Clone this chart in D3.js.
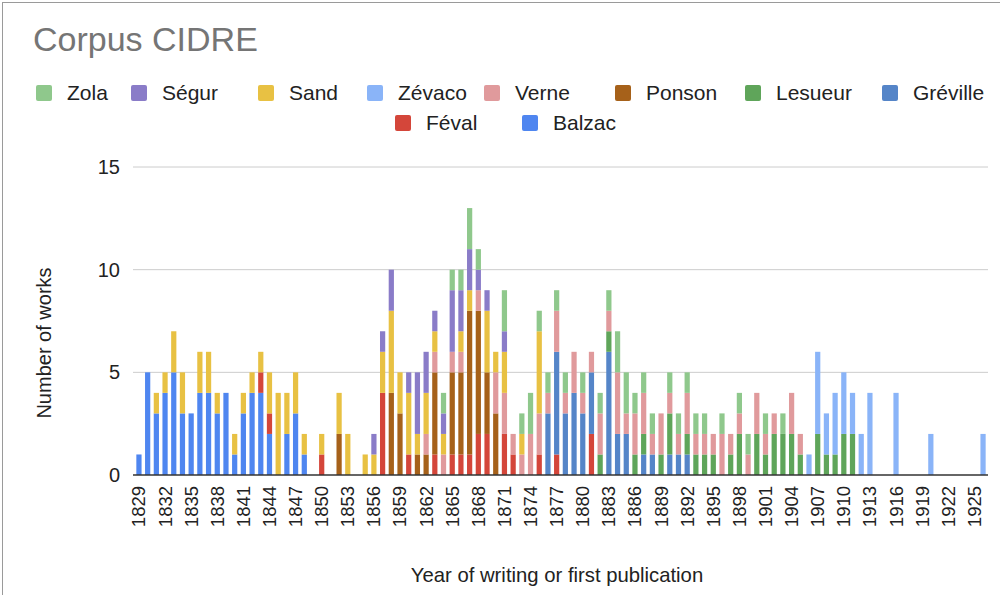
<!DOCTYPE html>
<html>
<head>
<meta charset="utf-8">
<script src="https://cdn.jsdelivr.net/npm/d3@7"></script>
<style>
  html, body { margin: 0; padding: 0; background: #fff; }
  svg { display: block; font-family: "Liberation Sans", Arial, sans-serif; }
</style>
</head>
<body>
<svg id="chart" width="1000" height="595"></svg>
<script>
// ---- DATA ----
const years = [
  1829,1830,1831,1832,1833,1834,1835,1836,1837,1838,
  1839,1840,1841,1842,1843,1844,1845,1846,1847,1848,
  1849,1850,1851,1852,1853,1854,1855,1856,1857,1858,
  1859,1860,1861,1862,1863,1864,1865,1866,1867,1868,
  1869,1870,1871,1872,1873,1874,1875,1876,1877,1878,
  1879,1880,1881,1882,1883,1884,1885,1886,1887,1888,
  1889,1890,1891,1892,1893,1894,1895,1896,1897,1898,
  1899,1900,1901,1902,1903,1904,1905,1906,1907,1908,
  1909,1910,1911,1912,1913,1914,1915,1916,1917,1918,
  1919,1920,1921,1922,1923,1924,1925,1926
];
const tickYears = [1829,1832,1835,1838,1841,1844,1847,1850,1853,1856,1859,1862,1865,1868,1871,1874,1877,1880,1883,1886,1889,1892,1895,1898,1901,1904,1907,1910,1913,1916,1919,1922,1925];
const yTicks = [0, 5, 10, 15];

const balzac = [
  1,5,3,4,5,3,3,4,4,3,
  4,1,3,4,4,2,0,2,3,1,
  0,0,0,0,0,0,0,0,0,0,
  0,0,0,0,0,0,0,0,0,0,
  0,0,0,0,0,0,0,0,0,0,
  0,0,0,0,0,0,0,0,0,0,
  0,0,0,0,0,0,0,0,0,0,
  0,0,0,0,0,0,0,0,0,0,
  0,0,0,0,0,0,0,0,0,0,
  0,0,0,0,0,0,0,0
];
const feval = [
  0,0,0,0,0,0,0,0,0,0,
  0,0,0,0,1,1,0,0,0,0,
  0,1,0,0,0,0,0,0,4,0,
  0,1,0,0,1,0,1,1,1,2,
  2,0,2,1,0,0,1,0,1,0,
  0,0,2,0,0,0,0,0,0,0,
  0,0,0,0,0,0,0,0,0,0,
  0,0,0,0,0,0,0,0,0,0,
  0,0,0,0,0,0,0,0,0,0,
  0,0,0,0,0,0,0,0
];
const greville = [
  0,0,0,0,0,0,0,0,0,0,
  0,0,0,0,0,0,0,0,0,0,
  0,0,0,0,0,0,0,0,0,0,
  0,0,0,0,0,0,0,0,0,0,
  0,0,0,0,0,0,0,3,5,3,
  4,3,3,0,6,2,2,0,1,1,
  0,1,1,1,0,0,0,0,0,0,
  0,0,0,0,0,0,0,0,0,0,
  0,0,0,0,0,0,0,0,0,0,
  0,0,0,0,0,0,0,0
];
const lesueur = [
  0,0,0,0,0,0,0,0,0,0,
  0,0,0,0,0,0,0,0,0,0,
  0,0,0,0,0,0,0,0,0,0,
  0,0,0,0,0,0,0,0,0,0,
  0,0,0,0,0,0,0,0,0,0,
  0,0,0,1,1,0,0,1,1,0,
  1,2,0,1,1,1,1,0,1,2,
  0,2,1,2,2,2,1,0,2,1,
  1,2,2,0,0,0,0,0,0,0,
  0,0,0,0,0,0,0,0
];
const ponson = [
  0,0,0,0,0,0,0,0,0,0,
  0,0,0,0,0,0,0,0,0,0,
  0,0,0,2,0,0,0,0,0,4,
  3,0,1,1,4,0,4,4,7,6,
  3,3,0,0,0,0,0,0,0,0,
  0,0,0,0,0,0,0,0,0,0,
  0,0,0,0,0,0,0,0,0,0,
  0,0,0,0,0,0,0,0,0,0,
  0,0,0,0,0,0,0,0,0,0,
  0,0,0,0,0,0,0,0
];
const verne = [
  0,0,0,0,0,0,0,0,0,0,
  0,0,0,0,0,0,0,0,0,0,
  0,0,0,0,0,0,0,0,0,0,
  0,0,0,1,1,1,1,1,0,1,
  0,2,2,1,1,2,2,1,2,1,
  2,1,1,2,1,3,1,2,2,1,
  2,1,1,2,1,1,1,2,1,1,
  1,2,1,1,0,2,1,0,0,0,
  0,0,0,0,0,0,0,0,0,0,
  0,0,0,0,0,0,0,0
];
const zevaco = [
  0,0,0,0,0,0,0,0,0,0,
  0,0,0,0,0,0,0,0,0,0,
  0,0,0,0,0,0,0,0,0,0,
  0,0,0,0,0,0,0,0,0,0,
  0,0,0,0,0,0,0,0,0,0,
  0,0,0,0,0,0,0,0,0,0,
  0,0,0,0,0,0,0,0,0,0,
  0,0,0,0,0,0,0,1,4,2,
  3,3,2,2,4,0,0,4,0,0,
  0,2,0,0,0,0,0,2
];
const sand = [
  0,0,1,1,2,2,0,2,2,1,
  0,1,1,1,1,2,4,2,2,1,
  0,1,0,2,2,0,1,1,2,4,
  2,3,1,2,1,1,0,1,1,0,
  3,1,2,0,1,0,4,0,0,0,
  0,0,0,0,0,0,0,0,0,0,
  0,0,0,0,0,0,0,0,0,0,
  0,0,0,0,0,0,0,0,0,0,
  0,0,0,0,0,0,0,0,0,0,
  0,0,0,0,0,0,0,0
];
const segur = [
  0,0,0,0,0,0,0,0,0,0,
  0,0,0,0,0,0,0,0,0,0,
  0,0,0,0,0,0,0,1,1,2,
  0,1,3,2,1,1,3,2,2,1,
  1,0,1,0,0,0,0,0,0,0,
  0,0,0,0,0,0,0,0,0,0,
  0,0,0,0,0,0,0,0,0,0,
  0,0,0,0,0,0,0,0,0,0,
  0,0,0,0,0,0,0,0,0,0,
  0,0,0,0,0,0,0,0
];
const zola = [
  0,0,0,0,0,0,0,0,0,0,
  0,0,0,0,0,0,0,0,0,0,
  0,0,0,0,0,0,0,0,0,0,
  0,0,0,0,0,1,1,1,2,1,
  0,0,2,0,1,2,1,1,1,1,
  0,1,0,1,1,2,2,1,1,1,
  0,1,1,1,1,1,0,1,0,1,
  1,0,1,0,1,0,0,0,0,0,
  0,0,0,0,0,0,0,0,0,0,
  0,0,0,0,0,0,0,0
];

// stacking order bottom -> top
const stackOrder = ["Balzac","Féval","Gréville","Lesueur","Ponson","Verne","Zévaco","Sand","Ségur","Zola"];
// legend order
const legendOrder = ["Zola","Ségur","Sand","Zévaco","Verne","Ponson","Lesueur","Gréville","Féval","Balzac"];
const seriesValues = {
  "Balzac": balzac, "Féval": feval, "Gréville": greville, "Lesueur": lesueur,
  "Ponson": ponson, "Verne": verne, "Zévaco": zevaco, "Sand": sand,
  "Ségur": segur, "Zola": zola
};
const colors = {
  "Zola": "#8fc88c", "Ségur": "#8a7cc8", "Sand": "#e8c143", "Zévaco": "#8ab4f8",
  "Verne": "#e09a9c", "Ponson": "#a6611a", "Lesueur": "#5fa55a", "Gréville": "#5585c8",
  "Féval": "#d4463a", "Balzac": "#4f86f0"
};

// ---- CHART ----
const svg = d3.select("#chart");

// outer border
svg.append("rect").attr("x", 2.5).attr("y", 2.5).attr("width", 1100).attr("height", 700)
  .attr("fill", "none").attr("stroke", "#9a9a9a").attr("stroke-width", 1);

const table = years.map((y, i) => {
  const row = { year: y };
  stackOrder.forEach(k => row[k] = seriesValues[k][i]);
  return row;
});

const x = d3.scaleBand().domain(years).range([134.6, 987.4]).paddingInner(0.4).paddingOuter(0.2);
const y = d3.scaleLinear().domain([0, 15]).range([475, 167]);

// gridlines
svg.append("g").selectAll("line").data(yTicks.filter(d => d > 0)).join("line")
  .attr("x1", 133).attr("x2", 988)
  .attr("y1", d => y(d)).attr("y2", d => y(d))
  .attr("stroke", "#cccccc").attr("stroke-width", 1);

const stacked = d3.stack().keys(stackOrder)(table);

svg.append("g").selectAll("g").data(stacked).join("g")
  .attr("fill", d => colors[d.key])
  .selectAll("rect").data(d => d.filter(s => s[1] - s[0] > 0)).join("rect")
  .attr("x", d => x(d.data.year))
  .attr("width", x.bandwidth())
  .attr("y", d => y(d[1]))
  .attr("height", d => y(d[0]) - y(d[1]));

// baseline
svg.append("line").attr("x1", 133).attr("x2", 988).attr("y1", y(0)).attr("y2", y(0))
  .attr("stroke", "#333").attr("stroke-width", 1.5);

// y tick labels
svg.append("g").selectAll("text").data(yTicks).join("text")
  .attr("x", 120).attr("y", d => y(d)).attr("dy", "0.35em")
  .attr("text-anchor", "end").attr("font-size", 20).attr("fill", "#222")
  .text(d => d);

// x tick labels
svg.append("g").selectAll("text").data(tickYears).join("text")
  .attr("transform", d => `translate(${x(d) + x.bandwidth() / 2},486) rotate(-90)`)
  .attr("dy", "0.35em").attr("text-anchor", "end")
  .attr("font-size", 18.5).attr("fill", "#222")
  .text(d => d);

// axis titles
svg.append("text").attr("x", 557).attr("y", 582).attr("text-anchor", "middle")
  .attr("font-size", 20.3).attr("fill", "#222").text("Year of writing or first publication");
svg.append("text").attr("transform", "translate(51,343) rotate(-90)")
  .attr("text-anchor", "middle").attr("font-size", 20).attr("fill", "#222")
  .text("Number of works");

// title
svg.append("text").attr("x", 33).attr("y", 51).attr("font-size", 34).attr("fill", "#757575")
  .text("Corpus CIDRE");

// legend (text start positions)
const legendPos = {
  "Zola": [67, 93], "Ségur": [162, 93], "Sand": [289, 93], "Zévaco": [398, 93],
  "Verne": [515, 93], "Ponson": [646, 93], "Lesueur": [776, 93], "Gréville": [913, 93],
  "Féval": [426, 123], "Balzac": [553, 123]
};
const lg = svg.append("g").selectAll("g").data(legendOrder).join("g")
  .attr("transform", d => `translate(${legendPos[d][0]},${legendPos[d][1]})`);
lg.append("rect").attr("x", -31).attr("y", -8).attr("width", 16).attr("height", 16).attr("rx", 2)
  .attr("fill", d => colors[d]);
lg.append("text").attr("x", 0).attr("y", 0).attr("dy", "0.35em")
  .attr("font-size", 21).attr("fill", "#222").text(d => d);
</script>
</body>
</html>
